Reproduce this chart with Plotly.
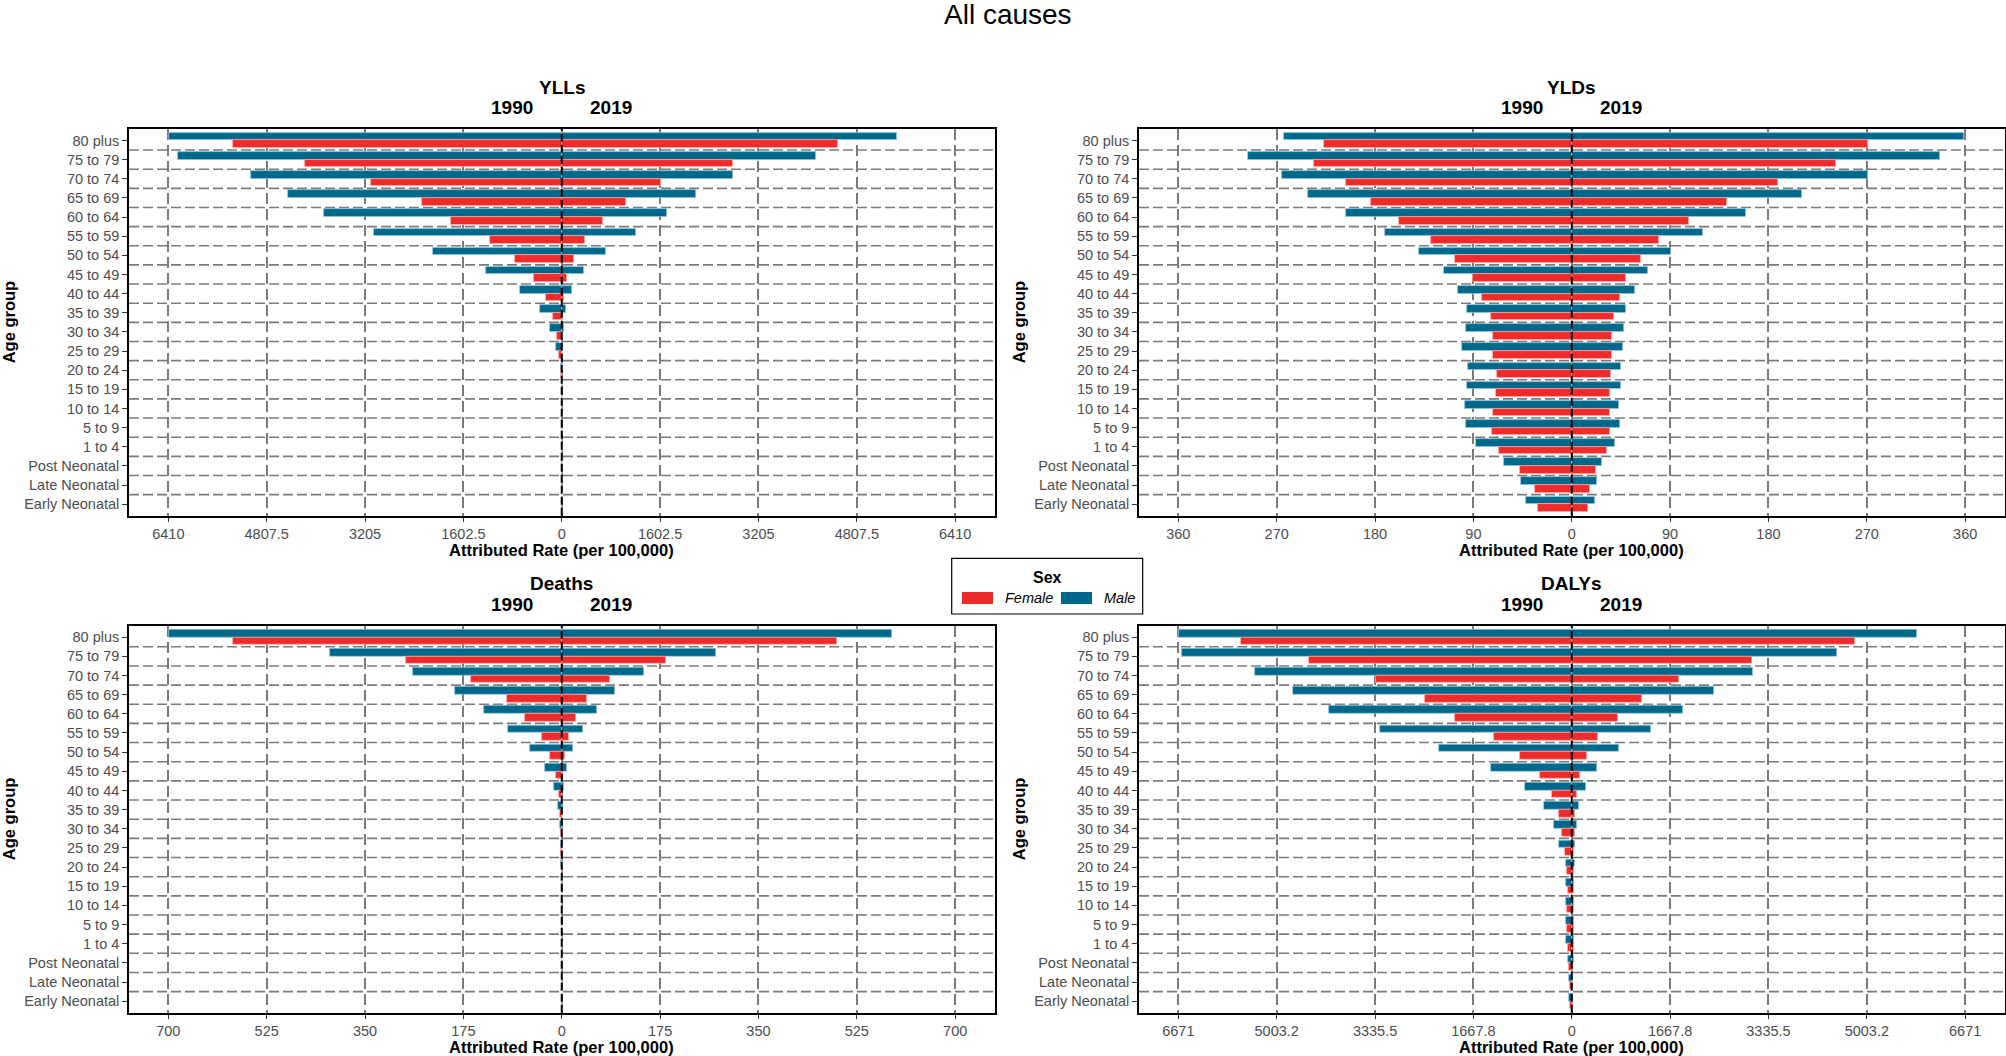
import plotly.graph_objects as go

# ---------------- data ----------------
age_groups = ["80 plus", "75 to 79", "70 to 74", "65 to 69", "60 to 64", "55 to 59",
              "50 to 54", "45 to 49", "40 to 44", "35 to 39", "30 to 34", "25 to 29",
              "20 to 24", "15 to 19", "10 to 14", "5 to 9", "1 to 4",
              "Post Neonatal", "Late Neonatal", "Early Neonatal"]

# YLLs
yll_male_1990 = [6405, 6259, 5070, 4453, 3879, 3060, 2104, 1232, 682, 357, 190, 97, 14, 4, 1, 1, 1, 1, 0.5, 0.5]
yll_male_2019 = [5455, 4139, 2786, 2190, 1714, 1210, 718, 357, 171, 76, 35, 6, 3, 1, 0.5, 0.5, 0.5, 0.5, 0.3, 0.3]
yll_female_1990 = [5352, 4185, 3104, 2284, 1806, 1169, 762, 445, 251, 135, 81, 49, 8, 2, 1, 1, 1, 0.5, 0.3, 0.3]
yll_female_2019 = [4497, 2791, 1621, 1048, 679, 371, 198, 92, 35, 14, 3, 2, 1, 0.5, 0.3, 0.3, 0.3, 0.3, 0.2, 0.2]

# YLDs
yld_male_1990 = [263, 296, 265, 241, 207, 171, 140, 117, 104, 96, 97, 100, 95, 96, 98, 97, 88, 62, 46, 42]
yld_male_2019 = [359, 337, 271, 211, 159, 120, 91, 70, 58, 50, 48, 47, 45, 45, 43, 44, 40, 28, 23, 21]
yld_female_1990 = [227, 236, 207, 184, 158, 129, 107, 90, 82, 74, 72, 72, 68, 69, 72, 73, 67, 47, 34, 31]
yld_female_2019 = [271, 242, 189, 142, 107, 80, 63, 50, 44, 39, 37, 37, 36, 35, 35, 35, 32, 22, 17, 15]

# Deaths
death_male_1990 = [699, 413, 264, 190, 139, 95, 56, 29.5, 14.5, 7, 3.5, 1.2, 0.5, 0.2, 0.1, 0.1, 0.1, 0.1, 0.1, 0.1]
death_male_2019 = [588, 275, 146, 94, 62, 38, 19.5, 9.5, 4.7, 2.4, 1, 0.3, 0.2, 0.1, 0.05, 0.05, 0.05, 0.05, 0.05, 0.05]
death_female_1990 = [585, 277, 162, 97, 65, 35.5, 20.5, 10, 5, 3.5, 1.8, 0.8, 0.2, 0.1, 0.05, 0.05, 0.05, 0.05, 0.05, 0.05]
death_female_2019 = [489, 186, 85.5, 45, 25, 12.3, 6.3, 2.3, 0.8, 0.5, 0.3, 0.1, 0.05, 0.05, 0.03, 0.03, 0.03, 0.03, 0.03, 0.03]

# DALYs
daly_male_1990 = [6660, 6605, 5369, 4724, 4122, 3259, 2253, 1367, 798, 468, 298, 209, 104, 97, 99, 98, 90, 66, 47, 44]
daly_male_2019 = [5850, 4505, 3073, 2406, 1892, 1345, 809, 432, 234, 130, 81, 62, 51, 46, 45, 45, 41, 31, 24, 22]
daly_female_1990 = [5610, 4450, 3324, 2482, 1979, 1312, 875, 543, 335, 217, 161, 122, 74, 70, 73, 74, 68, 50, 35, 32]
daly_female_2019 = [4800, 3051, 1815, 1192, 787, 448, 252, 148, 84, 62, 51, 45, 40, 36, 36, 36, 34, 23, 18, 16]

measures = ["YLLs", "YLDs", "Deaths", "DALYs"]
axis_limits = [6410, 360, 700, 6671]
tick_labels = [
    ["6410", "4807.5", "3205", "1602.5", "0", "1602.5", "3205", "4807.5", "6410"],
    ["360", "270", "180", "90", "0", "90", "180", "270", "360"],
    ["700", "525", "350", "175", "0", "175", "350", "525", "700"],
    ["6671", "5003.2", "3335.5", "1667.8", "0", "1667.8", "3335.5", "5003.2", "6671"],
]
tick_fracs = [-1, -0.75, -0.5, -0.25, 0, 0.25, 0.5, 0.75, 1]
series = [
    (yll_male_1990, yll_male_2019, yll_female_1990, yll_female_2019),
    (yld_male_1990, yld_male_2019, yld_female_1990, yld_female_2019),
    (death_male_1990, death_male_2019, death_female_1990, death_female_2019),
    (daly_male_1990, daly_male_2019, daly_female_1990, daly_female_2019),
]
year_labels = ["1990", "2019"]
sex_labels = ["Female", "Male"]

# ---------------- style ----------------
W, H = 2006, 1056
RED = "#EE2C2C"
TEAL = "#00688B"
FONT = "Liberation Sans, Arial, Helvetica, sans-serif"
GRID = "#7a7a7a"

# panel boxes in pixels: x0, x1, y0(top), y1(bottom)
boxes = [
    (129, 994.5, 129, 515.7),
    (1139, 2004.5, 129, 515.7),
    (129, 994.5, 625.7, 1012.7),
    (1139, 2004.5, 625.7, 1012.7),
]


def px(x):
    return x / W


def py(y):
    return 1 - y / H


n = len(age_groups)
ypos = [n - i for i in range(n)]

fig = go.Figure()
shapes = []
annotations = []
layout_axes = {}

for k in range(4):
    sfx = "" if k == 0 else str(k + 1)
    xa, ya = "x" + sfx, "y" + sfx
    m90, m19, f90, f19 = series[k]
    lim = axis_limits[k]
    x0, x1, y0, y1 = boxes[k]

    for vals, sign, col, off, line_col in [
        (m90, -1, TEAL, 0.2, "rgba(150,200,220,0.9)"),
        (m19, 1, TEAL, 0.2, "rgba(150,200,220,0.9)"),
        (f90, -1, RED, -0.2, "rgba(255,170,170,0.9)"),
        (f19, 1, RED, -0.2, "rgba(255,170,170,0.9)"),
    ]:
        fig.add_trace(go.Bar(
            orientation="h",
            y=[p + off for p in ypos],
            x=[sign * v for v in vals],
            width=0.4,
            marker=dict(color=col, line=dict(color=line_col, width=0.8)),
            xaxis=xa, yaxis=ya, showlegend=False, hoverinfo="skip",
        ))

    layout_axes["xaxis" + sfx] = dict(
        domain=[px(x0), px(x1)], anchor=ya,
        range=[-lim * 1.1, lim * 1.1],
        tickmode="array", tickvals=[f * lim for f in tick_fracs], ticktext=tick_labels[k],
        showgrid=True, gridcolor=GRID, griddash="11px,5px", gridwidth=1.5,
        zeroline=False, showline=True, mirror=True, linecolor="black", linewidth=1.6,
        ticks="outside", ticklen=4, tickcolor="#333333", tickwidth=1,
        tickfont=dict(family=FONT, size=14.5, color="#4d4d4d"),
        fixedrange=True,
    )
    layout_axes["yaxis" + sfx] = dict(
        domain=[py(y1), py(y0)], anchor=xa,
        range=[0.4, n + 0.6],
        tickmode="array", tickvals=ypos, ticktext=age_groups,
        showgrid=False, zeroline=False, showline=True, mirror=True,
        linecolor="black", linewidth=1.6,
        ticks="outside", ticklen=5, tickcolor="#333333", tickwidth=1,
        tickfont=dict(family=FONT, size=14.5, color="#4d4d4d"),
        fixedrange=True,
    )

    # horizontal dashed separators between age groups
    for j in range(1, n):
        shapes.append(dict(type="line", xref=xa + " domain", x0=0, x1=1,
                           yref=ya, y0=j + 0.5, y1=j + 0.5,
                           line=dict(color=GRID, width=1.6, dash="10px,4px"),
                           layer="below"))
    # zero line
    shapes.append(dict(type="line", xref=xa, x0=0, x1=0, yref=ya + " domain", y0=0, y1=1,
                       line=dict(color="black", width=2, dash="8px,3px"), layer="above"))

    # titles
    annotations.append(dict(text="<b>%s</b>" % measures[k], xref=xa, x=0, xanchor="center",
                            yref="paper", y=py(y0 - 42), yanchor="middle", showarrow=False,
                            font=dict(family=FONT, size=19, color="black")))
    annotations.append(dict(text="<b>%s</b>" % year_labels[0], xref=xa, x=0, xshift=-50,
                            xanchor="center", yref="paper", y=py(y0 - 21.3), yanchor="middle",
                            showarrow=False, font=dict(family=FONT, size=19, color="black")))
    annotations.append(dict(text="<b>%s</b>" % year_labels[1], xref=xa, x=0, xshift=49,
                            xanchor="center", yref="paper", y=py(y0 - 21.3), yanchor="middle",
                            showarrow=False, font=dict(family=FONT, size=19, color="black")))
    annotations.append(dict(text="<b>Attributed Rate (per 100,000)</b>", xref="paper",
                            x=px((x0 + x1) / 2), xanchor="center", yref="paper",
                            y=py(y1 + 34.6), yanchor="middle", showarrow=False,
                            font=dict(family=FONT, size=16.5, color="black")))
    annotations.append(dict(text="<b>Age group</b>", xref="paper", x=px(x0 - 120),
                            xanchor="center", yref="paper", y=py((y0 + y1) / 2),
                            yanchor="middle", textangle=-90, showarrow=False,
                            font=dict(family=FONT, size=16.5, color="black")))

# main title
annotations.append(dict(text="All causes", xref="paper", x=px(1008), xanchor="center",
                        yref="paper", y=py(15), yanchor="middle", showarrow=False,
                        font=dict(family=FONT, size=28, color="black")))

# legend (drawn manually)
shapes.append(dict(type="rect", xref="paper", yref="paper",
                   x0=px(951.7), x1=px(1142.7), y0=py(614), y1=py(558.3),
                   line=dict(color="black", width=1.2), fillcolor="white", layer="above"))
for sw_x, col in [(962, RED), (1061, TEAL)]:
    shapes.append(dict(type="rect", xref="paper", yref="paper",
                       x0=px(sw_x), x1=px(sw_x + 31), y0=py(604), y1=py(592),
                       line=dict(width=0), fillcolor=col, layer="above"))
annotations.append(dict(text="<b>Sex</b>", xref="paper", x=px(1047), xanchor="center",
                        yref="paper", y=py(577), yanchor="middle", showarrow=False,
                        font=dict(family=FONT, size=16, color="black")))
for sw_x, lab in [(962, sex_labels[0]), (1061, sex_labels[1])]:
    annotations.append(dict(text="<i>%s</i>" % lab, xref="paper", x=px(sw_x + 41),
                            xanchor="left", yref="paper", y=py(598), yanchor="middle",
                            showarrow=False, font=dict(family=FONT, size=14.5, color="black")))

fig.update_layout(
    width=W, height=H, autosize=False,
    margin=dict(l=0, r=0, t=0, b=0),
    paper_bgcolor="white", plot_bgcolor="white",
    barmode="overlay", bargap=0,
    shapes=shapes, annotations=annotations,
    font=dict(family=FONT),
    **layout_axes,
)

fig.write_html("out.html", config={"displayModeBar": False},
               post_script="document.body.style.margin='0';document.body.style.overflow='hidden';")
